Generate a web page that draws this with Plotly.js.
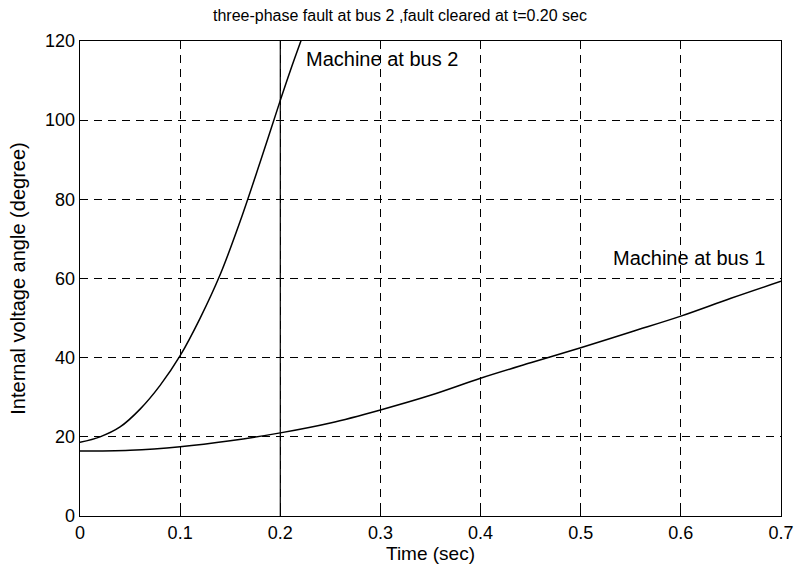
<!DOCTYPE html>
<html>
<head>
<meta charset="utf-8">
<script src="https://cdn.plot.ly/plotly-3.0.1.min.js"></script>
<style>html,body{margin:0;padding:0;background:#fff;}#chart{width:800px;height:568px;}</style>
</head>
<body>
<div id="chart"></div>
<script>
const t2 = [0, 0.02, 0.04, 0.06, 0.08, 0.10, 0.12, 0.14, 0.16, 0.18, 0.20, 0.21, 0.222];
const delta2 = [18.6, 20.0, 22.5, 27.0, 33.0, 40.5, 50.0, 61.0, 74.5, 89.5, 105.0, 112.5, 121.0];
const t1 = [0, 0.05, 0.10, 0.15, 0.20, 0.25, 0.30, 0.35, 0.40, 0.45, 0.50, 0.55, 0.60, 0.65, 0.70];
const delta1 = [16.4, 16.6, 17.5, 19.0, 21.0, 23.5, 26.8, 30.5, 34.8, 38.7, 42.5, 46.5, 50.5, 55.0, 59.3];
const xTicks = [0, 0.1, 0.2, 0.3, 0.4, 0.5, 0.6, 0.7];
const yTicks = [0, 20, 40, 60, 80, 100, 120];
const clearTime = 0.2;
const titleText = "three-phase fault at bus 2 ,fault cleared at t=0.20 sec";
const label2 = "Machine at bus 2";
const label1 = "Machine at bus 1";

const font = "Liberation Sans, Arial, sans-serif";
const traces = [
  {x: t2, y: delta2, mode: "lines", line: {color: "#000", width: 1.5, shape: "spline"}, name: label2},
  {x: t1, y: delta1, mode: "lines", line: {color: "#000", width: 1.5, shape: "spline"}, name: label1}
];
const axisCommon = {
  showline: true, mirror: true, linecolor: "#000", linewidth: 1.3,
  ticks: "inside", ticklen: 5, tickcolor: "#000",
  showgrid: true, gridcolor: "#000", gridwidth: 1, griddash: "8px,6px",
  zeroline: false, tickfont: {family: font, size: 18, color: "#000"}
};
const layout = {
  width: 800, height: 568,
  margin: {l: 80, r: 19, t: 41, b: 52},
  paper_bgcolor: "#fff", plot_bgcolor: "#fff",
  showlegend: false,
  title: {text: titleText, font: {family: font, size: 16, color: "#000"}, x: 0.5, xanchor: "center", y: 0.973, yanchor: "middle"},
  xaxis: Object.assign({}, axisCommon, {range: [0, 0.7], tickvals: xTicks, ticktext: xTicks.map(String),
    title: {text: "Time (sec)", font: {family: font, size: 19, color: "#000"}, standoff: 0}}),
  yaxis: Object.assign({}, axisCommon, {range: [0, 120], tickvals: yTicks,
    title: {text: "Internal voltage angle (degree)", font: {family: font, size: 20, color: "#000"}, standoff: 14}}),
  shapes: [{type: "line", xref: "x", yref: "y", x0: clearTime, x1: clearTime, y0: 0, y1: 120, line: {color: "#000", width: 1.2}}],
  annotations: [
    {x: 0.224, y: 115.5, xref: "x", yref: "y", text: label2, showarrow: false, xanchor: "left", yanchor: "middle", font: {family: font, size: 20, color: "#000"}},
    {x: 0.530, y: 65.3, xref: "x", yref: "y", text: label1, showarrow: false, xanchor: "left", yanchor: "middle", font: {family: font, size: 20, color: "#000"}}
  ]
};
Plotly.newPlot("chart", traces, layout, {displayModeBar: false, staticPlot: true});
</script>
</body>
</html>
